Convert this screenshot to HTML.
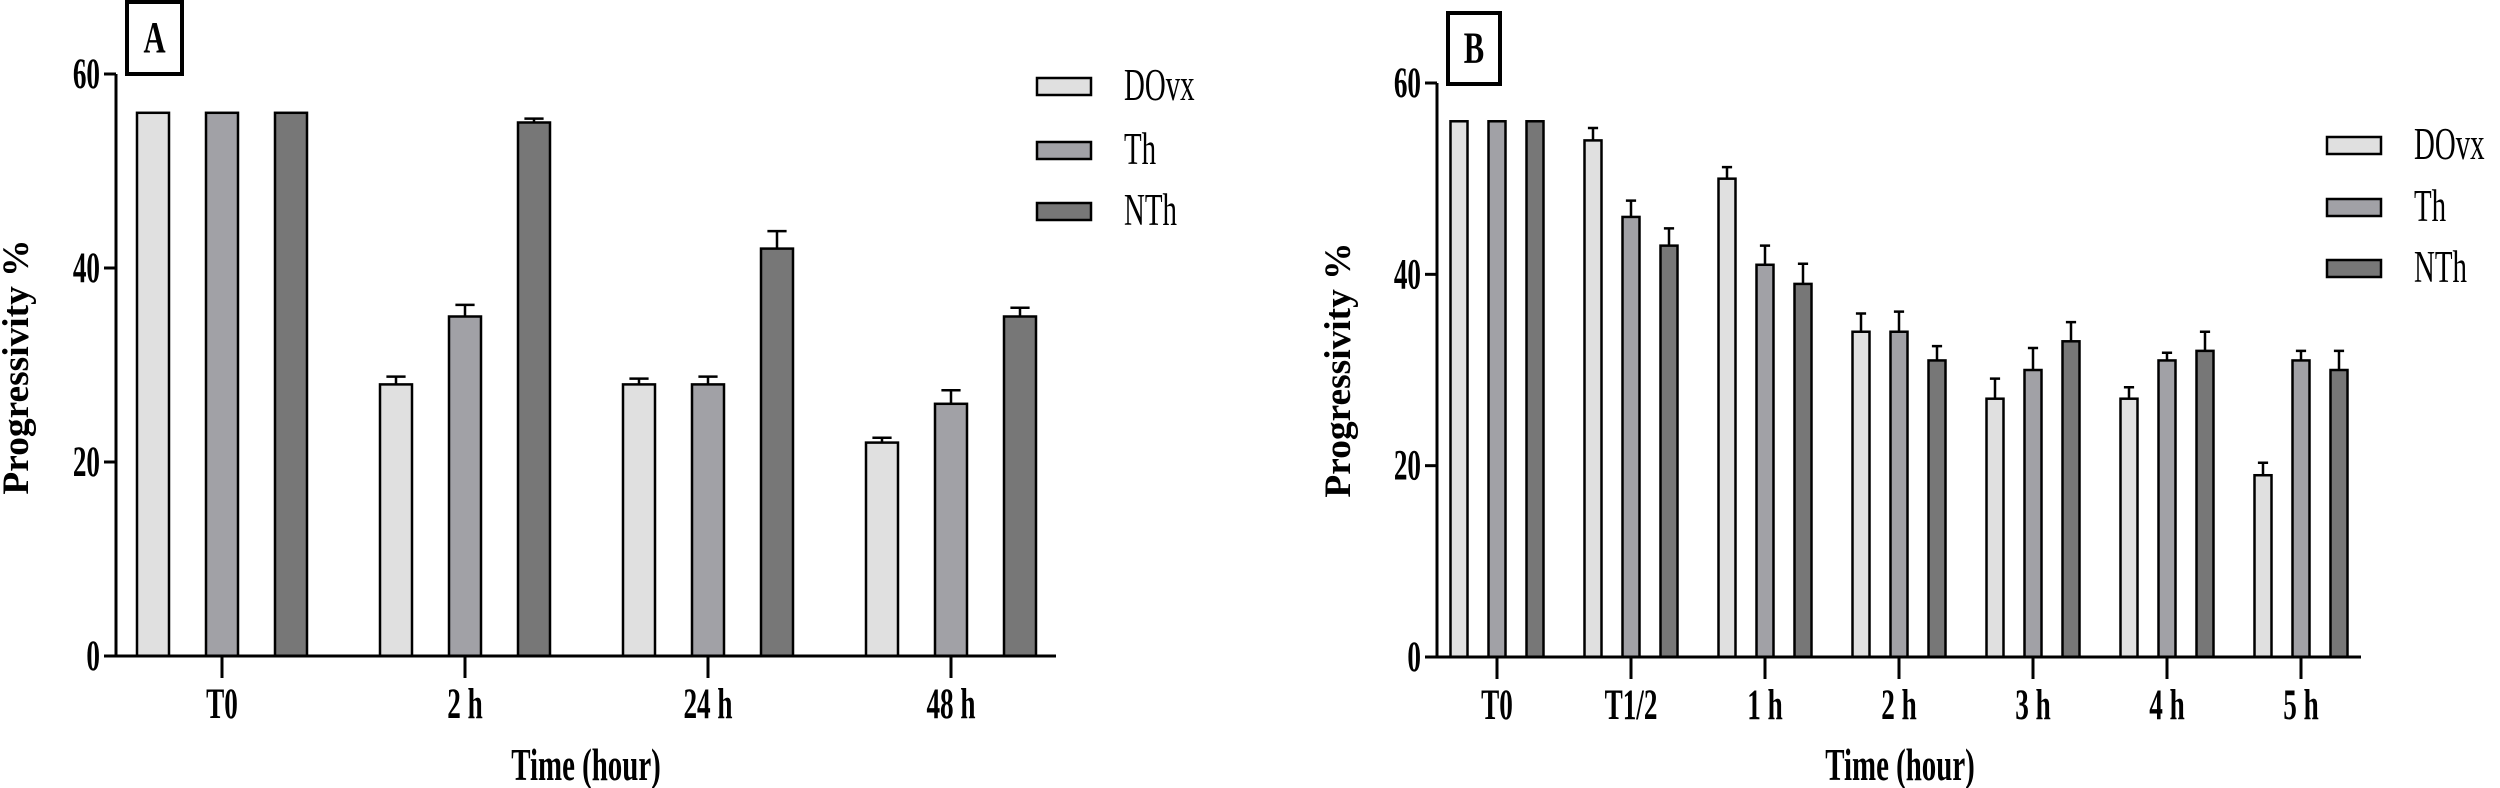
<!DOCTYPE html>
<html><head><meta charset="utf-8"><style>
html,body{margin:0;padding:0;background:#fff;}
svg{display:block;font-family:"Liberation Serif",serif;}
</style></head><body>
<svg id="chart" width="2500" height="788" viewBox="0 0 2500 788"></svg>
<script>
const seriesNames = ["DOvx","Th","NTh"];
const seriesColors = ["#e0e0e0","#a1a1a6","#777777"];
const catsA = ["T0","2 h","24 h","48 h"];
const dovxA = [56,28,28,22];
const thA = [56,35,28,26];
const nthA = [56,55,42,35];
const dovxErrA = [0,0.8,0.6,0.5];
const thErrA = [0,1.2,0.8,1.4];
const nthErrA = [0,0.4,1.8,0.9];
const catsB = ["T0","T1/2","1 h","2 h","3 h","4 h","5 h"];
const dovxB = [56,54,50,34,27,27,19];
const thB = [56,46,41,34,30,31,31];
const nthB = [56,43,39,31,33,32,30];
const dovxErrB = [0,1.3,1.2,1.9,2.1,1.2,1.3];
const thErrB = [0,1.7,2.0,2.1,2.3,0.8,1.0];
const nthErrB = [0,1.8,2.1,1.5,2.0,2.0,2.0];
const yTicks = [0,20,40,60];

const NS="http://www.w3.org/2000/svg";
const svg=document.getElementById('chart');
function el(tag,attrs,parent){const e=document.createElementNS(NS,tag);for(const k in attrs)e.setAttribute(k,attrs[k]);(parent||svg).appendChild(e);return e;}
function txt(parent,x,y,str,size,weight,anchor,sx,sy,rot){
  const t=el('text',{x:0,y:0,'text-anchor':anchor,'font-size':size,'font-weight':weight,
    transform:`translate(${x},${y})${rot?' rotate('+rot+')':''} scale(${sx},${sy})`},parent);
  t.textContent=str;return t;
}

function panel(p){
  const g=el('g',{});
  
  
  const y=v=>p.y0-(p.y0-p.y60)*v/60;
  const x=i=>p.x0+i*p.step;
  p.series.forEach((vals,s)=>{
    vals.forEach((v,i)=>{
      const cx=x(i)+(s-1)*p.off;
      const top=y(v+p.errs[s][i]);
      if(p.errs[s][i]>0){
        const eb=el('path',{d:`M${cx} ${y(v)} V${top} M${cx-p.bw*0.3} ${top} H${cx+p.bw*0.3}`,stroke:'#000','stroke-width':2.5,fill:'none'},g);
        
        
      }
      const r=el('rect',{x:cx-p.bw/2,y:y(v),width:p.bw,height:y(0)-y(v),fill:seriesColors[s],stroke:'#000','stroke-width':2.5},g);
      
      
    });
  });
  const ya=el('line',{x1:p.ax,y1:y(0),x2:p.ax,y2:y(60),stroke:'#000','stroke-width':3},g);
  
  
  const xa=el('line',{x1:p.ax-12,y1:y(0),x2:p.xEnd,y2:y(0),stroke:'#000','stroke-width':3},g);
  
  
  yTicks.forEach(t=>{
    el('line',{x1:p.ax-12,y1:y(t),x2:p.ax,y2:y(t),stroke:'#000','stroke-width':3},g);
    const tl=txt(g,p.ax-16,y(t)+14,String(t),32,'bold','end',0.85,1.35);
    
    
  });
  p.cats.forEach((c,i)=>{
    el('line',{x1:x(i),y1:y(0),x2:x(i),y2:y(0)+22,stroke:'#000','stroke-width':3},g);
    const tl=txt(g,x(i),y(0)+62,c,32,'bold','middle',0.85,1.35);
    
    
  });
  const xt=txt(g,p.xTitle,780,'Time (hour)',34,'bold','middle',0.85,1.35);
  
  
  const yt=txt(g,p.yTitleX,p.yTitleY,'Progressivity %',34,'bold','middle',1.1,1.1,-90);
  
  
  seriesNames.forEach((n,s)=>{
    const ly=p.legY[s];
    const lr=el('rect',{x:p.legX,y:ly,width:54,height:17,fill:seriesColors[s],stroke:'#000','stroke-width':2.5},g);
    
    
    const lt=txt(g,p.legX+87,ly+22,n,34,'normal','start',0.85,1.35);
    
    
  });
  const lb=el('rect',{x:p.lbl[0],y:p.lbl[1],width:p.lbl[2],height:p.lbl[3],fill:'#fff',stroke:'#000','stroke-width':4},g);
  
  
  const lbt=txt(g,p.lbl[0]+p.lbl[2]/2,p.lbl[1]+p.lbl[3]/2+14,p.label,34,'bold','middle',0.9,1.3);
  
  
}

panel({name:'panel-a',label:'A',cats:catsA,series:[dovxA,thA,nthA],errs:[dovxErrA,thErrA,nthErrA],
  ax:116,xEnd:1056,y0:656,y60:74,x0:222,step:243,off:69,bw:32,
  xTitle:586,yTitleX:28,yTitleY:367,legX:1037,legY:[78,142,203],lbl:[127,2,55,72]});
panel({name:'panel-b',label:'B',cats:catsB,series:[dovxB,thB,nthB],errs:[dovxErrB,thErrB,nthErrB],
  ax:1437,xEnd:2361,y0:657,y60:83,x0:1497,step:134,off:38,bw:17,
  xTitle:1900,yTitleX:1350,yTitleY:370,legX:2327,legY:[137,199,260],lbl:[1448,13,52,71]});
</script>
</body></html>
